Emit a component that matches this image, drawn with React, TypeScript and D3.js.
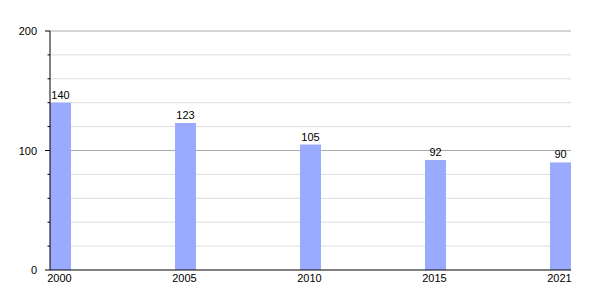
import React from "react";
import * as d3 from "d3";

const years = ["2000", "2005", "2010", "2015", "2021"];
const values = [140, 123, 105, 92, 90];
const majorTicks = [0, 100, 200];
const minorTicks = [20, 40, 60, 80, 120, 140, 160, 180];

export default function App() {
  const W = 600, H = 300;
  const left = 50, right = 571, top = 31, bottom = 270;
  const barW = 21;
  const x = d3.scalePoint<string>().domain(years).range([left, 550]);
  const y = d3.scaleLinear().domain([0, 200]).range([bottom, top]);
  const font = "Liberation Sans, Arial, sans-serif";
  return (
    <svg width={W} height={H} style={{ position: "absolute", left: 0, top: 0 }} fontFamily={font}>
      <rect width={W} height={H} fill="#fff" />
      {minorTicks.map((t) => (
        <line key={"g" + t} x1={left} x2={right} y1={y(t)} y2={y(t)} stroke="#dddddd" strokeWidth={1} />
      ))}
      {majorTicks.filter((t) => t > 0).map((t) => (
        <line key={"G" + t} x1={left} x2={right} y1={y(t)} y2={y(t)} stroke="#aaaaaa" strokeWidth={1} />
      ))}
      {years.map((yr, i) => (
        <rect key={yr} x={x(yr)!} y={y(values[i])} width={barW} height={bottom - y(values[i])} fill="#99aaff" />
      ))}
      {years.map((yr, i) => (
        <text key={"v" + yr} x={x(yr)! + barW / 2} y={y(values[i]) - 4} fontSize={11} textAnchor="middle" fill="#000">
          {values[i]}
        </text>
      ))}
      <line x1={left} x2={left} y1={top} y2={bottom} stroke="#000" strokeWidth={1} />
      <line x1={left} x2={right} y1={bottom} y2={bottom} stroke="#000" strokeWidth={1} />
      {majorTicks.map((t) => (
        <g key={"t" + t}>
          <line x1={left - 5} x2={left} y1={y(t)} y2={y(t)} stroke="#000" />
          <text x={37} y={y(t) + 4} fontSize={11} textAnchor="end" fill="#000">{t}</text>
        </g>
      ))}
      {minorTicks.map((t) => (
        <line key={"m" + t} x1={left - 2.5} x2={left} y1={y(t)} y2={y(t)} stroke="#000" />
      ))}
      {years.map((yr) => (
        <text key={"x" + yr} x={x(yr)! + barW / 2 - 1} y={bottom + 12} fontSize={11} textAnchor="middle" fill="#000">
          {yr}
        </text>
      ))}
    </svg>
  );
}
